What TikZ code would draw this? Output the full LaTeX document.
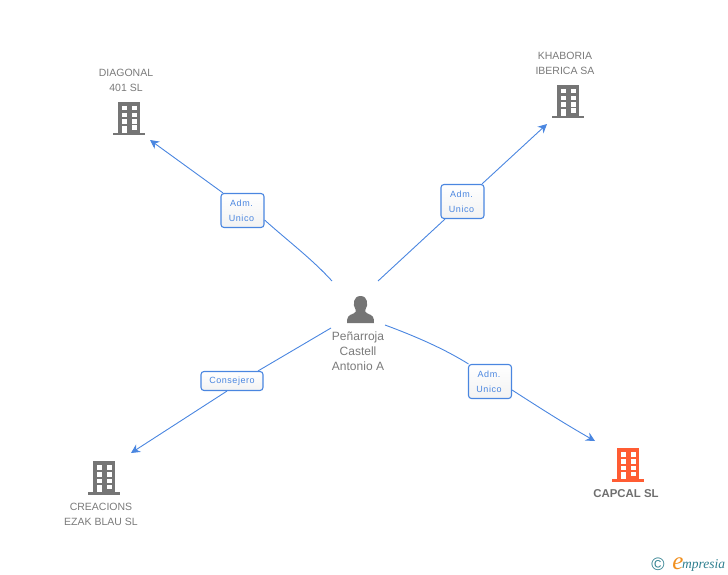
\documentclass[tikz,border=0pt]{standalone}
\usepackage{fontspec}
\setmainfont{Liberation Sans}
\newfontfamily\badgefont[LetterSpace=6]{Liberation Sans}
\newfontfamily\logofont{Liberation Serif}
\usetikzlibrary{arrows.meta}
\definecolor{edgeblue}{HTML}{4A86E0}
\definecolor{namegrey}{HTML}{7A7A7A}
\definecolor{iconorange}{HTML}{FF5C33}
\definecolor{icongrey}{HTML}{757575}
\definecolor{logoteal}{HTML}{2F7F8F}
\definecolor{logoorange}{HTML}{F09020}
\tikzset{
  x=1pt,y=-1pt,
  edge/.style={draw=edgeblue,line width=0.9pt},
  arrowedge/.style={edge,-{Stealth[length=9pt,width=9pt]}},
  badge/.style={draw=edgeblue,line width=1.1pt,rounded corners=3pt,top color=white,bottom color=white!95!black,
    text=edgeblue,font=\badgefont\fontsize{9}{15}\selectfont,align=center,inner sep=0pt},
  corpname/.style={text=namegrey,font=\fontsize{10.5}{15}\selectfont,align=center,inner sep=0pt},
  pics/building/.style={code={
    \fill[pic actions] (-11,0) rectangle (11,31);
    \fill[pic actions] (-16,31) rectangle (16,33.5);
    \foreach \wy in {4,11,17.5}{
      \fill[white] (-7.5,\wy) rectangle (-2.5,\wy+4.5);
      \fill[white] (2.5,\wy) rectangle (7.5,\wy+4.5);
    }
    \fill[white] (2.5,23.5) rectangle (7.5,28);
    \fill[white] (-7,24) rectangle (-2.5,31);
  }}
}
\begin{document}
\begin{tikzpicture}
\useasboundingbox (0,0) rectangle (728,575);
% buildings
\pic[fill=icongrey] at (129,102) {building};
\pic[fill=icongrey] at (568,85) {building};
\pic[fill=icongrey] at (104,461) {building};
\pic[fill=iconorange] at (628,448) {building};
% person
\fill[icongrey] (347,323) .. controls (347,317) and (348,315.5) .. (353.5,313.5)
  .. controls (356,312.5) and (356.5,311) .. (355.5,309.5)
  .. controls (352.5,305) and (353,296) .. (360.5,296)
  .. controls (368,296) and (368.5,305) .. (365.5,309.5)
  .. controls (364.5,311) and (365,312.5) .. (367.5,313.5)
  .. controls (373,315.5) and (374,317) .. (374,323) -- cycle;
% labels
\node[corpname,font=\fontsize{12}{15}\selectfont] (person) at (358,351.6) {Peñarroja\\Castell\\Antonio A};
\node[corpname] (diagonal) at (126,80.6) {DIAGONAL\\401 SL};
\node[corpname] (khaboria) at (565,63.6) {KHABORIA\\IBERICA SA};
\node[corpname] (creacions) at (101,514.6) {CREACIONS\\EZAK BLAU SL};
\node[corpname,font=\bfseries\fontsize{11.4}{15}\selectfont,text=namegrey!90!black] (capcal) at (626,494) {CAPCAL SL};
% badges
\node[badge,minimum width=43pt,minimum height=34pt] (b1) at (242.5,210.5) {\hspace{-2pt}Adm.\\\hspace{-2pt}Unico};
\node[badge,minimum width=43pt,minimum height=34pt] (b2) at (462.5,201.5) {\hspace{-2pt}Adm.\\\hspace{-2pt}Unico};
\node[badge,minimum width=62pt,minimum height=19pt] (b3) at (232,381) {Consejero};
\node[badge,minimum width=43pt,minimum height=34pt] (b4) at (490,381.5) {\hspace{-2pt}Adm.\\\hspace{-2pt}Unico};
% connector free ends
\coordinate (s1) at (332,281);
\coordinate (s2) at (378,281);
\coordinate (s3) at (331,328);
\coordinate (s4) at (385,325);
\coordinate (t1) at (150,140);
\coordinate (t2) at (547,124);
\coordinate (t3) at (131,453);
\coordinate (t4) at (595,441);
% connectors
\draw[edge] (s1) .. controls (312,259) and (288,241) .. ([yshift=-9.5pt]b1.east);
\draw[arrowedge] ([xshift=-19.5pt]b1.north) -- (t1);
\draw[edge] (s2) -- ([xshift=-17.5pt]b2.south);
\draw[arrowedge] ([xshift=19.5pt]b2.north) -- (t2);
\draw[edge] (s3) -- ([xshift=26pt]b3.north);
\draw[arrowedge] ([xshift=-5pt]b3.south) -- (t3);
\draw[edge] (s4) .. controls (420,338) and (446,350) .. ([xshift=-21.5pt]b4.north);
\draw[arrowedge] ([yshift=-8.5pt]b4.east) .. controls (540,408) and (565,424) .. (t4);
% logo
\node[inner sep=0pt,text=logoteal,font=\fontsize{18}{18}\selectfont] (copy) at (658,564) {©};
\node[inner sep=0pt,anchor=base,text=logoorange,font=\logofont\itshape\fontsize{25}{25}\selectfont] (loge) at (678,569.5) {e};
\node[inner sep=0pt,anchor=base west,text=logoteal,font=\logofont\itshape\fontsize{13.5}{14}\selectfont] (logt) at (682,568.5) {mpresia};
\end{tikzpicture}
\end{document}
